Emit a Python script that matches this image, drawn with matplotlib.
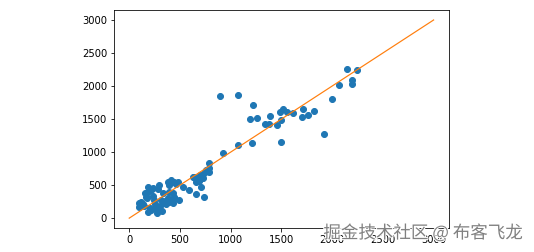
import numpy as np
import matplotlib
matplotlib.use("Agg")
import matplotlib.pyplot as plt
import matplotlib.patheffects as pe

actual = [92, 99, 131, 181, 188, 165, 230, 181, 214, 263, 247, 289, 329, 339,
          273, 296, 362, 378, 411, 444, 477, 395, 428, 378, 428, 444, 395, 428,
          494, 526, 592, 625, 658, 691, 724, 658, 708, 734, 740, 757, 783, 790,
          790, 120, 150, 200, 175, 210, 250, 270, 300, 320, 350, 160, 230, 285,
          315, 390, 460, 440, 655, 640, 690, 700,
          898, 921, 1069, 1069, 1208, 1194, 1224, 1257, 1343, 1382, 1392, 1454,
          1487, 1494, 1500, 1520, 1553, 1619, 1704, 1711, 1760, 1820, 1915,
          1997, 2066, 2145, 2195, 2195, 2244]
predicted = [233, 172, 213, 476, 400, 324, 451, 96, 122, 172, 274, 502, 375, 223,
             71, 122, 213, 552, 578, 552, 552, 400, 375, 299, 274, 324, 248, 233,
             274, 476, 426, 628, 552, 578, 603, 360, 476, 315, 679, 730, 755, 831,
             704, 250, 190, 150, 300, 420, 210, 130, 180, 110, 260, 380, 330, 440,
             270, 500, 520, 300, 590, 620, 560, 650,
             1854, 992, 1865, 1109, 1140, 1500, 1713, 1515, 1418, 1428, 1540, 1413,
             1600, 1155, 1489, 1652, 1611, 1591, 1530, 1652, 1565, 1626, 1277,
             1804, 2016, 2264, 2097, 2031, 2239]
ideal = [0, 3000]

fig = plt.figure(figsize=(534 / 72, 252 / 72), dpi=72)
ax = fig.add_axes([0.2135, 0.095, 0.627, 0.865])

ax.scatter(actual, predicted, color="C0")
ax.plot(ideal, ideal, color="C1", lw=1.2)

ax.set_xticks([0, 500, 1000, 1500, 2000, 2500, 3000])
ax.set_yticks([0, 500, 1000, 1500, 2000, 2500, 3000])

# site watermark (overlaps the x tick labels, as in the original)
fig.text(0.979, 0.075, "掘金技术社区 @ 布客飞龙", ha="right", va="center",
         fontsize=17.5, color="#808080", family=["Noto Sans CJK SC", "DejaVu Sans"],
         path_effects=[pe.withStroke(linewidth=2, foreground="white")])

fig.savefig("out.png", dpi=72)
